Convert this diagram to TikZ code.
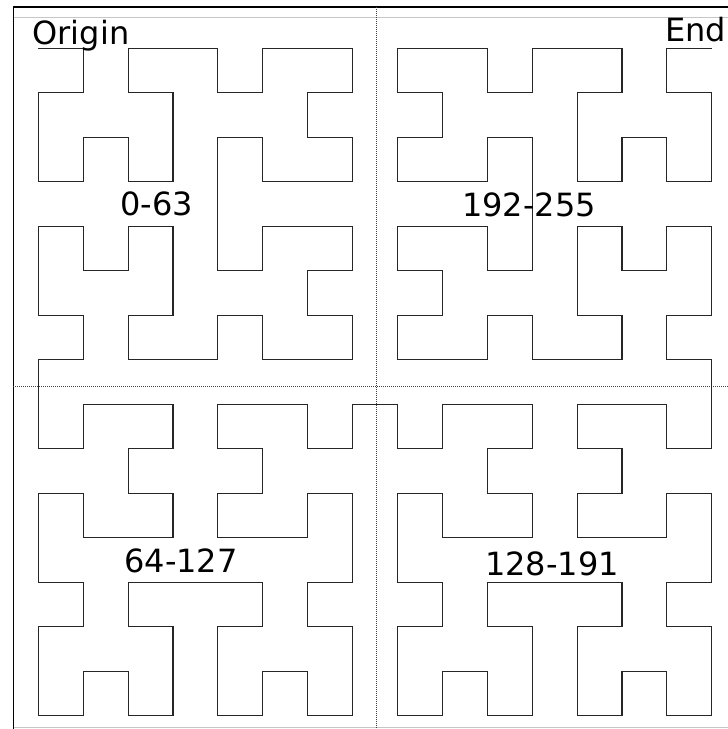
\documentclass[tikz,border=0pt]{standalone}
\usepackage{fontspec}
\setmainfont{DejaVu Sans}
\usetikzlibrary{positioning}

% index d -> cell (\hx,\hy) of a 16x16 Hilbert curve
\newcommand\hilbertstep[1]{%
  \pgfmathtruncatemacro\hrx{mod(div(\hd,2),2)}%
  \pgfmathtruncatemacro\hry{mod(mod(\hd,2)+\hrx,2)}%
  \ifnum\hry=0
    \ifnum\hrx=1
      \pgfmathtruncatemacro\hx{#1-1-\hx}%
      \pgfmathtruncatemacro\hy{#1-1-\hy}%
    \fi
    \let\htmp\hx\let\hx\hy\let\hy\htmp
  \fi
  \pgfmathtruncatemacro\hx{\hx+#1*\hrx}%
  \pgfmathtruncatemacro\hy{\hy+#1*\hry}%
  \pgfmathtruncatemacro\hd{div(\hd,4)}%
}
\newcommand\hilbertcell[1]{%
  \pgfmathtruncatemacro\hd{#1}\def\hx{0}\def\hy{0}%
  \hilbertstep{1}\hilbertstep{2}\hilbertstep{4}\hilbertstep{8}}

\begin{document}
\begin{tikzpicture}[x=1pt, y=-1pt,
  curve/.style={line width=1.1pt, black!85, line join=miter},
  divider/.style={densely dotted, line width=1pt, black!75},
  lab/.style={font=\fontsize{32}{38}\selectfont, inner sep=0pt, anchor=base}]
\useasboundingbox (0,0) rectangle (728,729);
\fill[white] (0,0) rectangle (728,729);

% frame
\draw[gray!45, line width=0.6pt] (13,17) -- (728,17);
\draw[gray!45, line width=0.8pt] (13,727.5) -- (728,727.5);
\draw[line width=1.6pt] (13.5,729) -- (13.5,7) -- (728,7);

% quadrant dividers
\draw[divider] (376,7) -- (376,729);
\draw[divider] (13,386.5) -- (728,386.5);

% curve points
\foreach \d in {0,...,255} {
  \hilbertcell{\d}
  \coordinate (h\d) at ({38.3+44.9*\hx},{48.3+44.5*\hy});
}
\draw[curve] (h0) foreach \d in {1,...,255} { -- (h\d) };

% labels
\node[lab] (origin) at (81,44.5) {Origin};
\node[lab] (end) at (695.5,41.7) {End};
\node[lab] (q0) at (156.7,215) {0-63};
\node[lab] (q1) at (181,572) {64-127};
\node[lab] (q2) at (552,575) {128-191};
\node[lab] (q3) at (529,216) {192-255};
\end{tikzpicture}
\end{document}
